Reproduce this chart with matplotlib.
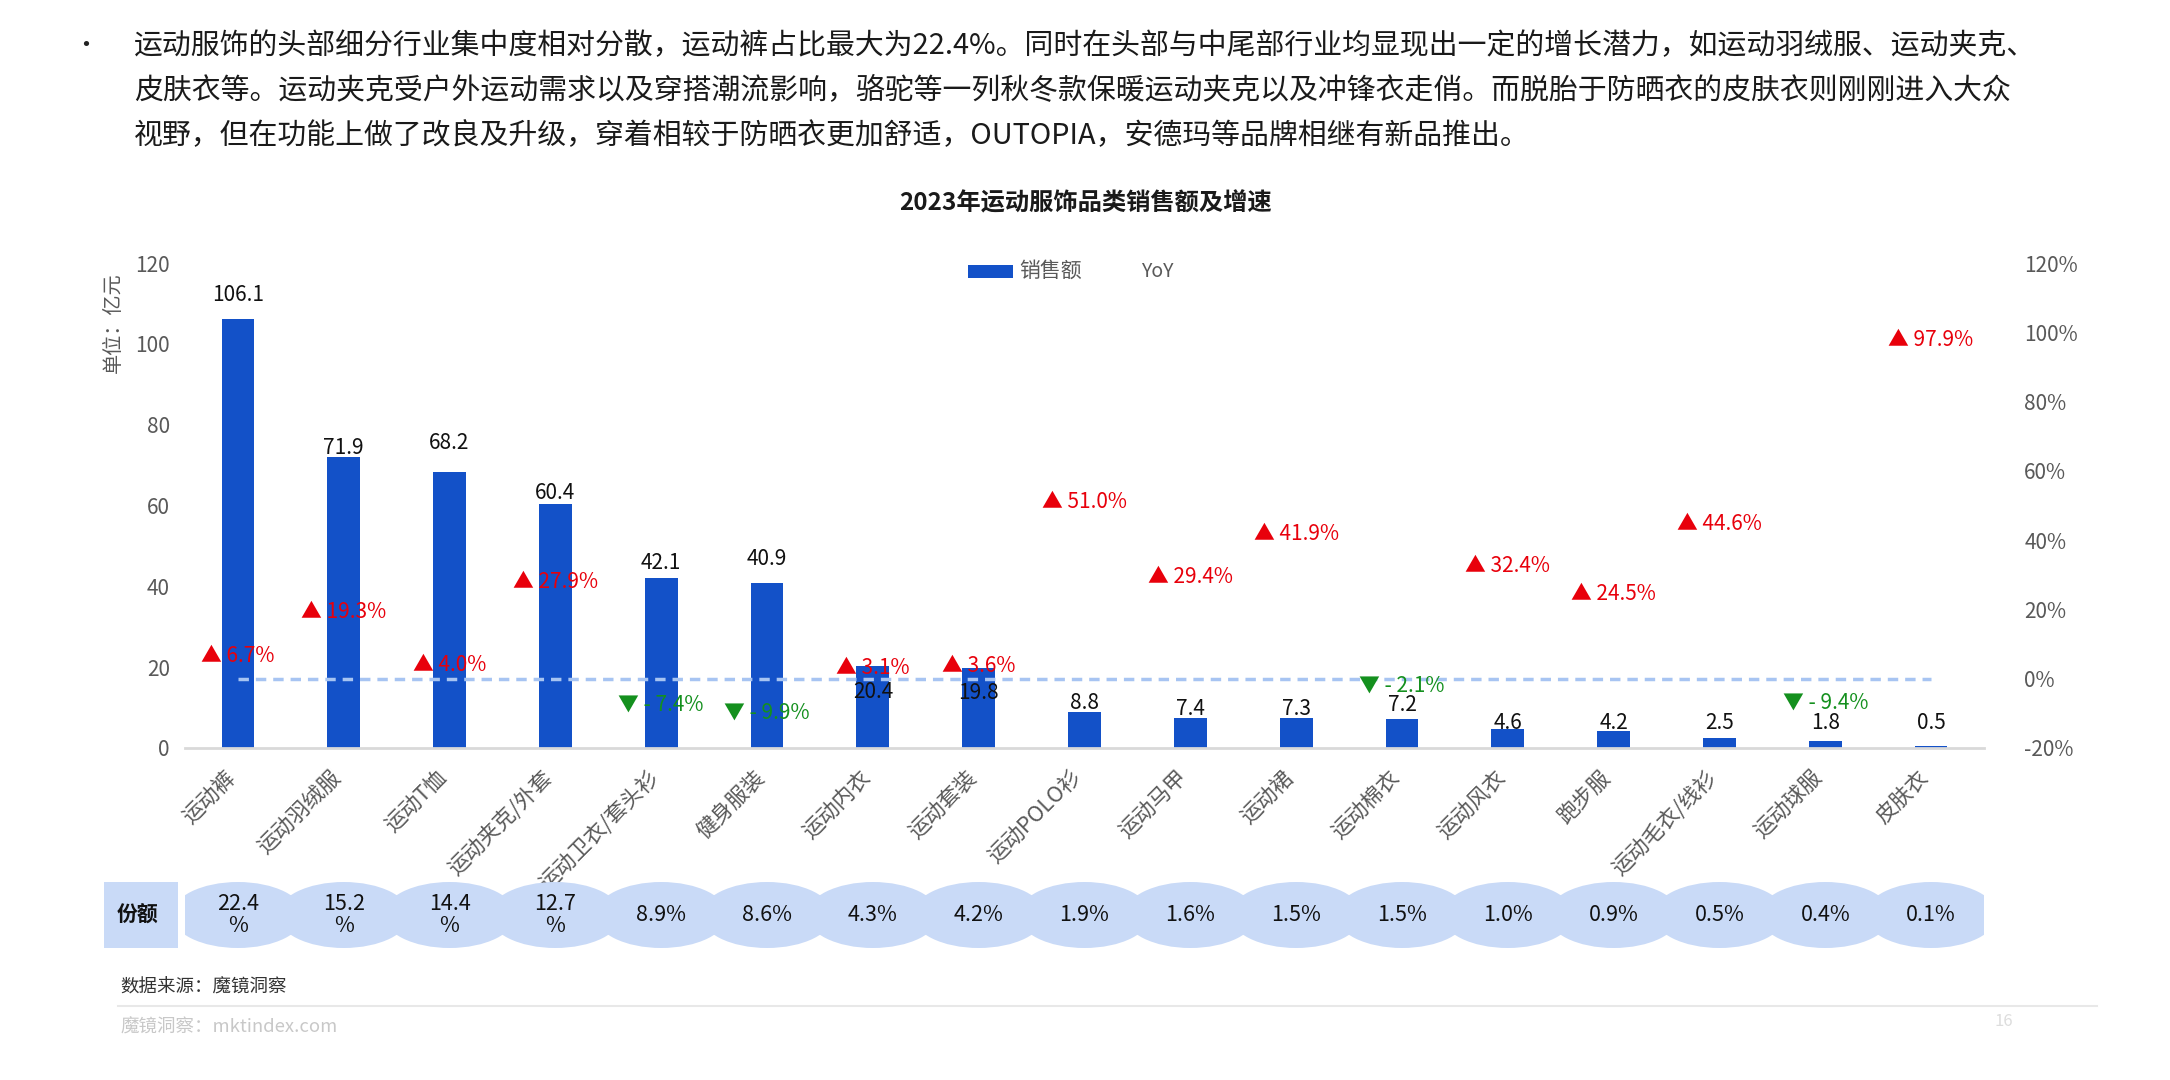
import numpy as np
import matplotlib
matplotlib.use("Agg")
import matplotlib.pyplot as plt
from matplotlib.patches import Ellipse, Rectangle
from matplotlib.lines import Line2D
from matplotlib.transforms import ScaledTranslation

plt.rcParams['font.family'] = ['Noto Sans CJK SC', 'DejaVu Sans']

# ---------------- data ----------------
categories = ["运动裤", "运动羽绒服", "运动T恤", "运动夹克/外套", "运动卫衣/套头衫", "健身服装",
              "运动内衣", "运动套装", "运动POLO衫", "运动马甲", "运动裙", "运动棉衣",
              "运动风衣", "跑步服", "运动毛衣/线衫", "运动球服", "皮肤衣"]
sales = [106.1, 71.9, 68.2, 60.4, 42.1, 40.9, 20.4, 19.8, 8.8, 7.4, 7.3, 7.2, 4.6, 4.2, 2.5, 1.8, 0.5]
yoy = [6.7, 19.3, 4.0, 27.9, -7.4, -9.9, 3.1, 3.6, 51.0, 29.4, 41.9, -2.1, 32.4, 24.5, 44.6, -9.4, 97.9]
share = [22.4, 15.2, 14.4, 12.7, 8.9, 8.6, 4.3, 4.2, 1.9, 1.6, 1.5, 1.5, 1.0, 0.9, 0.5, 0.4, 0.1]
left_ticks = [0, 20, 40, 60, 80, 100, 120]
right_ticks = [-20, 0, 20, 40, 60, 80, 100, 120]

# label placement offsets (style only)
label_off = [6.0, 2.3, 7.3, 2.7, 3.7, 5.8, -6.5, -6.2, 2.3, 2.3, 2.3, 3.4, 1.6, 2.0, 3.7, 4.4, 5.7]
yoy_label_off = [0, 0, 0, 0, 0, 0, 0, 0, 0, 0, 0, 0, 0, 0, 0, 2.5, 0]

BLUE = '#1351C8'
GRAY = '#595959'
RED = '#E8000B'
GREEN = '#14901E'

W, H = 2170, 1080
fig = plt.figure(figsize=(W / 100, H / 100), dpi=100)
fig.patch.set_facecolor('white')

# ---------------- paragraph ----------------
para = [
    "运动服饰的头部细分行业集中度相对分散，运动裤占比最大为22.4%。同时在头部与中尾部行业均显现出一定的增长潜力，如运动羽绒服、运动夹克、",
    "皮肤衣等。运动夹克受户外运动需求以及穿搭潮流影响，骆驼等一列秋冬款保暖运动夹克以及冲锋衣走俏。而脱胎于防晒衣的皮肤衣则刚刚进入大众",
    "视野，但在功能上做了改良及升级，穿着相较于防晒衣更加舒适，OUTOPIA，安德玛等品牌相继有新品推出。",
]
fig.text(86 / W, 1 - 46 / H, "•", fontsize=18, color='#222222', va='center', ha='center')
for k, line in enumerate(para):
    fig.text(134 / W, 1 - (46 + 45 * k) / H, line, fontsize=20.8, color='#1A1A1A', va='center', ha='left')

# ---------------- title & legend ----------------
fig.text(1086 / W, 1 - 203 / H, "2023年运动服饰品类销售额及增速", fontsize=17.5, fontweight='bold',
         color='#1A1A1A', ha='center', va='center')
fig.patches.append(Rectangle((968 / W, 1 - 278 / H), 45 / W, 13 / H, transform=fig.transFigure,
                             facecolor=BLUE, edgecolor='none'))
fig.text(1019 / W, 1 - 271 / H, "销售额", fontsize=15, color=GRAY, ha='left', va='center')
fig.text(1141 / W, 1 - 271 / H, "YoY", fontsize=14, color=GRAY, ha='left', va='center')

# ---------------- main axes ----------------
ax = fig.add_axes([185 / W, 1 - 748 / H, (1984 - 185) / W, (748 - 263) / H])
x = np.arange(len(categories))
ax.bar(x, sales, width=0.31, color=BLUE, zorder=2)
ax.set_xlim(-0.5, len(categories) - 0.5)
ax.set_ylim(left_ticks[0], left_ticks[-1])
ax.set_yticks(left_ticks)
ax.set_yticklabels([str(t) for t in left_ticks], fontsize=15, color=GRAY)
ax.tick_params(axis='y', length=0, pad=11)
ax.set_xticks(x)
ax.set_xticklabels(categories, rotation=45, ha='right', va='center', rotation_mode='anchor',
                   fontsize=15.5, color=GRAY)
ax.tick_params(axis='x', length=0, pad=19)
shift = ScaledTranslation(-0.06, 0, fig.dpi_scale_trans)
for lab in ax.get_xticklabels():
    lab.set_transform(lab.get_transform() + shift)
for s in ['top', 'right', 'left']:
    ax.spines[s].set_visible(False)
ax.spines['bottom'].set_color('#D9D9D9')
ax.spines['bottom'].set_linewidth(2)

for i, v in enumerate(sales):
    ax.text(i, v + label_off[i], f"{v}", ha='center', va='center', fontsize=15, color='#111111', zorder=5)

ax2 = ax.twinx()
ax2.set_ylim(right_ticks[0], right_ticks[-1])
ax2.set_yticks(right_ticks)
ax2.set_yticklabels([f"{t}%" for t in right_ticks], fontsize=15, color=GRAY)
ax2.tick_params(axis='y', length=0, pad=29)
for s in ['top', 'right', 'left', 'bottom']:
    ax2.spines[s].set_visible(False)
ax2.hlines(0, x[0], x[-1], colors='#A7C4F2', linestyles=(0, (3, 2)), linewidth=2.5, zorder=3)
for i, v in enumerate(yoy):
    yy = v + yoy_label_off[i]
    if v >= 0:
        ax2.text(i, yy, f"▲ {v:.1f}%", ha='center', va='center', fontsize=15, color=RED, zorder=6)
    else:
        ax2.text(i, yy, f"▼ - {abs(v):.1f}%", ha='center', va='center', fontsize=15, color=GREEN, zorder=6)

# ---------------- share row ----------------
axs = fig.add_axes([185 / W, 1 - 948 / H, (1984 - 185) / W, 66 / H])
axs.set_xlim(-0.5, len(categories) - 0.5)
axs.set_ylim(0, 1)
axs.axis('off')
SHARE_BG = '#C9DAF7'
for i, s in enumerate(share):
    axs.add_patch(Ellipse((i, 0.5), width=1.25, height=1.0, facecolor=SHARE_BG, edgecolor='none'))
    txt = f"{s}\n%" if s >= 10 else f"{s}%"
    axs.text(i, 0.5, txt, ha='center', va='center', fontsize=15.5, color='#111111', linespacing=1.05)
axs.add_patch(Rectangle((-1.27, 0.0), 0.7, 1.0, facecolor=SHARE_BG, edgecolor='none', clip_on=False))
axs.text(-0.95, 0.5, "份额", ha='center', va='center', fontsize=15, fontweight='bold', color='#111111')

# ---------------- y label ----------------
fig.text(113 / W, 1 - 323 / H, "单位：亿元", rotation=90, fontsize=14.5, color=GRAY, ha='center', va='center')

# ---------------- footer ----------------
fig.text(120 / W, 1 - 988 / H, "数据来源：魔镜洞察", fontsize=13.3, color='#333333', ha='left', va='center')
fig.add_artist(Line2D([118 / W, 2097 / W], [1 - 1006 / H, 1 - 1006 / H], color='#E8E8E8', linewidth=1.5))
fig.text(120 / W, 1 - 1028 / H, "魔镜洞察：mktindex.com", fontsize=13.3, color='#C8C8C8', ha='left', va='center')
fig.text(1995 / W, 1 - 1022 / H, "16", fontsize=12, color='#DDDDDD', ha='left', va='center')

fig.savefig("out.png", dpi=100, facecolor='white')
